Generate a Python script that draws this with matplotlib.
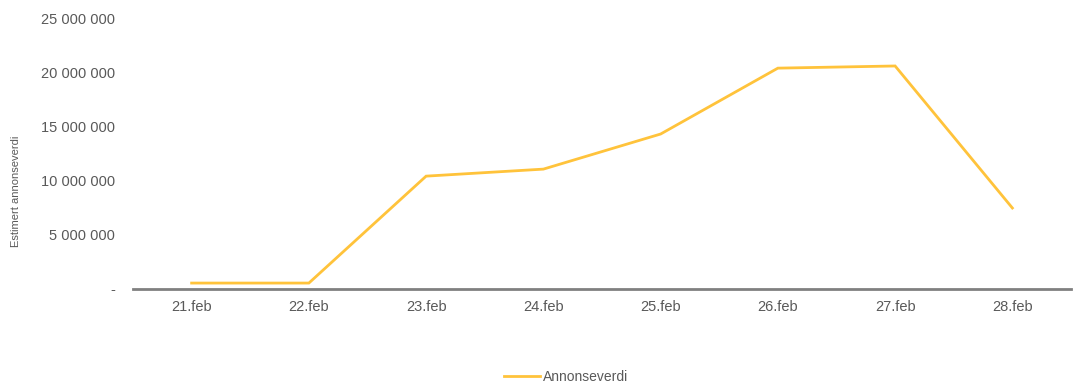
import matplotlib
matplotlib.use("Agg")
import matplotlib.pyplot as plt
from matplotlib.ticker import FuncFormatter

plt.rcParams['font.family'] = ['Liberation Sans Narrow', 'Liberation Sans', 'DejaVu Sans']

categories = ["21.feb", "22.feb", "23.feb", "24.feb", "25.feb", "26.feb", "27.feb", "28.feb"]
values = [550000, 550000, 10450000, 11100000, 14350000, 20450000, 20650000, 7500000]
series_name = "Annonseverdi"
y_label = "Estimert annonseverdi"
y_ticks = [0, 5000000, 10000000, 15000000, 20000000, 25000000]

fig = plt.figure(figsize=(10.73, 3.85), dpi=100)
ax = fig.add_axes([133/1073, 1 - 289/385, (1071 - 133)/1073, (289 - 19)/385])

x = list(range(len(categories)))
ax.plot(x, values, color="#FFC33B", linewidth=2.0, label=series_name, solid_joinstyle="miter")

ax.set_xlim(-0.5, len(categories) - 0.5)
ax.set_ylim(0, 25000000)
ax.set_yticks(y_ticks)

def fmt(v, pos):
    if v == 0:
        return "-"
    return f"{int(v):,}".replace(",", " ")

ax.yaxis.set_major_formatter(FuncFormatter(fmt))
ax.set_xticks(x)
ax.set_xticklabels(categories)

for s in ["top", "right", "left"]:
    ax.spines[s].set_visible(False)
ax.spines["bottom"].set_color("#808080")
ax.spines["bottom"].set_linewidth(2.0)

ax.tick_params(axis="both", length=0, colors="#595959", labelsize=10.5)
ax.tick_params(axis="y", pad=13)
ax.tick_params(axis="x", pad=8)

ax.set_ylabel(y_label, color="#595959", fontsize=8, labelpad=12)
ax.yaxis.set_label_coords(-112/938, 0.36)

leg = fig.legend(loc="center", bbox_to_anchor=(566/1073, 1 - 377/385), frameon=False,
                 fontsize=10, handlelength=2.6, handletextpad=0.2)
for t in leg.get_texts():
    t.set_color("#595959")

fig.savefig("out.png", dpi=100)
